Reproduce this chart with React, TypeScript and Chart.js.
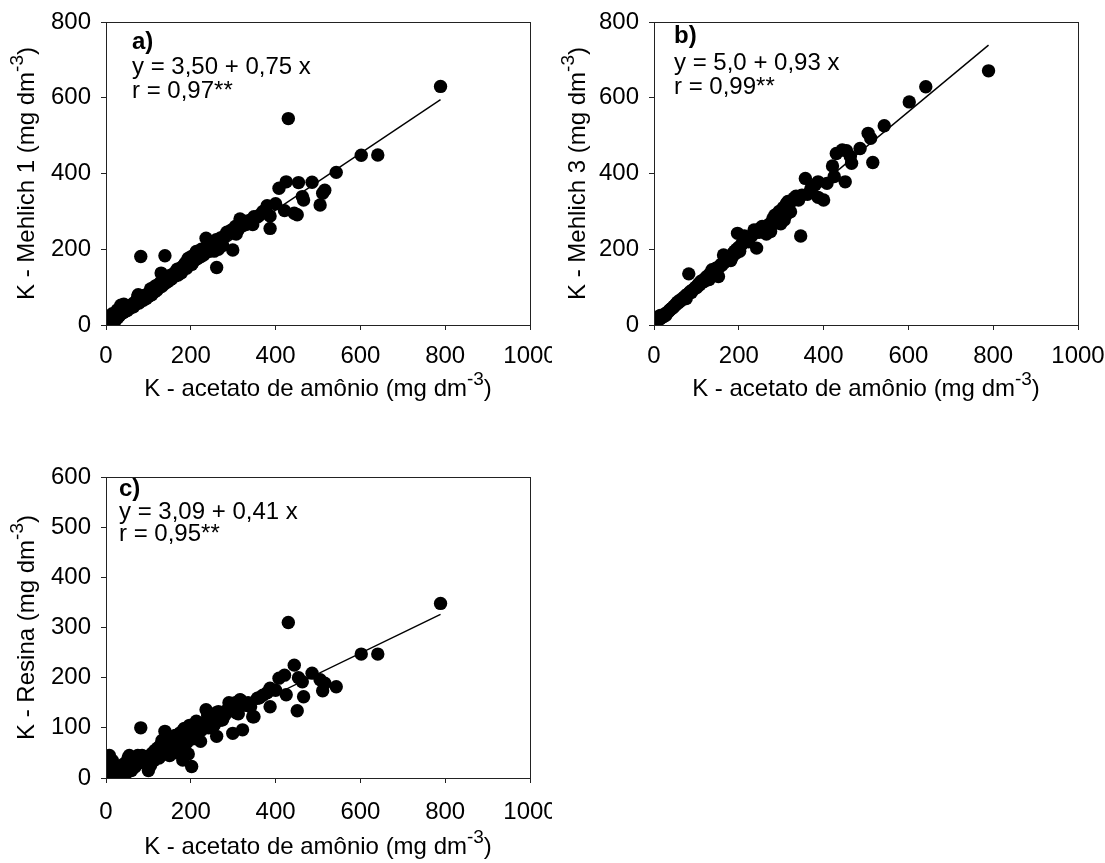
import React, { useEffect, useRef } from "react";
import { Chart, registerables } from "chart.js";

Chart.register(...registerables);

// K - acetato de amônio (shared x for all three panels)
const kAcetato = [
  789, 641, 602, 543, 516, 511, 505, 486, 466, 463, 454, 451, 444, 430, 425, 421, 408, 400, 387, 387,
  357, 349, 341, 322, 316, 311, 307, 299, 290, 275, 265, 261, 346, 248, 242, 236, 223, 213, 202, 197,
  194, 185, 181, 168, 164, 152, 139, 137, 130, 118, 82, 76,
  5, 8, 10, 12, 14, 15, 18, 20, 22, 25, 27, 28, 30, 32, 35, 36, 38, 40, 42, 44,
  46, 48, 50, 52, 55, 57, 60, 62, 65, 68, 70, 72, 75, 78, 80, 85, 88, 90, 95, 98,
  100, 103, 105, 108, 110, 113, 115, 120, 122, 125, 128, 132, 135, 140, 143, 146, 150, 155, 158, 160,
  165, 170, 172, 175, 178, 182, 188, 190, 195, 200, 205, 208, 215, 218, 225, 230, 240, 250, 255, 260,
  270, 280, 285, 295, 305, 312, 318, 330, 335, 362, 370, 380,
];

// K - Mehlich 1
const kMehlich1 = [
  630, 449, 448, 403, 356, 348, 317, 377, 330, 339, 376, 291, 295, 545, 378, 302, 361, 320, 288, 255,
  285, 286, 277, 262, 280, 250, 240, 198, 242, 210, 200, 152, 265, 205, 194, 229, 180, 194, 160, 176,
  176, 160, 150, 147, 130, 120, 183, 110, 137, 104, 181, 80,
  8, 12, 20, 25, 10, 30, 15, 22, 12, 28, 40, 20, 35, 25, 52, 30, 40, 32, 55, 35,
  48, 42, 38, 45, 50, 44, 52, 55, 48, 60, 55, 62, 75, 58, 68, 72, 65, 78, 70, 82,
  75, 85, 95, 80, 90, 100, 88, 92, 105, 98, 112, 102, 120, 110, 125, 115, 130, 122, 135, 128,
  140, 132, 145, 150, 138, 155, 165, 150, 170, 180, 165, 185, 175, 190, 200, 185, 205, 215, 195, 225,
  230, 235, 245, 250, 260, 255, 270, 265, 275, 290, 300, 315,
];

// K - Mehlich 3
const kMehlich3 = [
  671, 629, 589, 526, 429, 493, 506, 466, 427, 445, 460, 378, 462, 453, 392, 420, 374, 330, 378, 337,
  387, 343, 330, 299, 326, 290, 277, 267, 270, 247, 240, 245, 235, 245, 203, 251, 220, 235, 195, 242,
  190, 180, 170, 170, 185, 128, 140, 146, 120, 115, 135, 70,
  10, 14, 22, 18, 16, 25, 20, 24, 22, 28, 30, 26, 32, 34, 36, 38, 40, 42, 44, 45,
  48, 50, 52, 55, 60, 58, 62, 66, 65, 70, 72, 74, 78, 80, 82, 88, 86, 92, 96, 100,
  98, 104, 108, 106, 115, 112, 118, 120, 125, 128, 130, 135, 140, 138, 145, 150, 148, 155, 160, 158,
  165, 168, 175, 172, 180, 185, 190, 195, 200, 205, 210, 215, 220, 225, 230, 235, 245, 255, 260, 250,
  265, 280, 290, 300, 310, 320, 318, 335, 340, 345, 360, 370,
];

// K - Resina
const kResina = [
  348, 247, 247, 182, 189, 174, 196, 209, 162, 192, 200, 134, 225, 310, 166, 205, 199, 175, 179, 142,
  159, 122, 142, 96, 156, 136, 130, 89, 150, 116, 132, 83, 122, 106, 100, 136, 73, 113, 23, 105,
  48, 99, 36, 79, 85, 70, 93, 60, 55, 45, 100, 35,
  15, 45, 30, 8, 20, 35, 5, 12, 25, 8, 15, 3, 18, 10, 22, 6, 14, 20, 28, 12,
  18, 10, 25, 40, 45, 20, 15, 30, 35, 22, 28, 40, 45, 30, 38, 45, 35, 42, 38, 30,
  15, 45, 25, 40, 50, 35, 55, 48, 60, 40, 65, 75, 50, 80, 68, 55, 45, 62, 72, 50,
  85, 68, 75, 90, 60, 95, 82, 70, 88, 92, 78, 95, 85, 100, 95, 110, 125, 120, 105, 130,
  115, 125, 135, 140, 150, 128, 155, 145, 150, 160, 165, 170,
];

// regression lines (end points)
const fitMehlich1 = [{ x: 0, y: 3.5 }, { x: 789, y: 595 }];
const fitMehlich3 = [{ x: 0, y: 5 }, { x: 789, y: 739 }];
const fitResina = [{ x: 0, y: 3.09 }, { x: 789, y: 326 }];

const xTickStep = 200;
const xMax = 1000;
const yMaxMehlich = 800;
const yStepMehlich = 200;
const yMaxResina = 600;
const yStepResina = 100;

const FONT = '"Liberation Sans", Arial, Helvetica, sans-serif';
const FS = 24;

type PanelProps = {
  left: number;
  top: number;
  width: number;
  height: number;
  area: { l: number; r: number; t: number; b: number };
  yMax: number;
  yStep: number;
  ys: number[];
  fit: { x: number; y: number }[];
  tag: string;
  eq: string;
  rtxt: string;
  yMain: string;
  yTitleX: number;
  xTitleOff: number;
  xTickPad: number;
  textOff: { dx: number; tag: number; eq: number; r: number };
};

function drawTitle(
  ctx: CanvasRenderingContext2D,
  cx: number,
  cy: number,
  rotate: boolean,
  main: string,
  sup: string,
  tail: string
) {
  ctx.save();
  ctx.translate(cx, cy);
  if (rotate) ctx.rotate(-Math.PI / 2);
  const mainFont = `${FS}px ${FONT}`;
  const supFont = `19px ${FONT}`;
  ctx.font = mainFont;
  const w1 = ctx.measureText(main).width;
  const w3 = ctx.measureText(tail).width;
  ctx.font = supFont;
  const w2 = ctx.measureText(sup).width;
  let x = -(w1 + w2 + w3) / 2;
  ctx.textBaseline = "middle";
  ctx.textAlign = "left";
  ctx.fillStyle = "#000";
  ctx.font = mainFont;
  ctx.fillText(main, x, 0);
  x += w1;
  ctx.font = supFont;
  ctx.fillText(sup, x, -9);
  x += w2;
  ctx.font = mainFont;
  ctx.fillText(tail, x, 0);
  ctx.restore();
}

function Panel(p: PanelProps) {
  const ref = useRef<HTMLCanvasElement | null>(null);
  useEffect(() => {
    if (!ref.current) return;
    const pts = kAcetato.map((x, i) => ({ x, y: p.ys[i] }));
    const yAxisW = p.area.l;
    const xAxisH = p.height - p.area.b;
    const decor = {
      id: "decor" + p.tag,
      afterDraw(chart: any) {
        const ctx = chart.ctx as CanvasRenderingContext2D;
        const a = chart.chartArea;
        ctx.save();
        ctx.strokeStyle = "#222";
        ctx.lineWidth = 1;
        ctx.strokeRect(
          Math.round(a.left) + 0.5,
          Math.round(a.top) + 0.5,
          Math.round(a.right) - Math.round(a.left),
          Math.round(a.bottom) - Math.round(a.top)
        );
        ctx.fillStyle = "#000";
        ctx.textAlign = "left";
        ctx.textBaseline = "middle";
        ctx.font = `bold ${FS}px ${FONT}`;
        ctx.fillText(p.tag, a.left + p.textOff.dx, a.top + p.textOff.tag);
        ctx.font = `${FS}px ${FONT}`;
        ctx.fillText(p.eq, a.left + p.textOff.dx, a.top + p.textOff.eq);
        ctx.fillText(p.rtxt, a.left + p.textOff.dx, a.top + p.textOff.r);
        ctx.restore();
        drawTitle(
          ctx,
          (a.left + a.right) / 2,
          a.bottom + p.xTitleOff,
          false,
          "K - acetato de amônio (mg dm",
          "-3",
          ")"
        );
        drawTitle(ctx, p.yTitleX, (a.top + a.bottom) / 2, true, p.yMain, "-3", ")");
      },
    };
    const chart = new Chart(ref.current, {
      type: "scatter",
      data: {
        datasets: [
          {
            data: pts,
            backgroundColor: "#000",
            borderColor: "#000",
            pointRadius: 6.7,
            pointBorderWidth: 0,
            pointHoverRadius: 6.7,
          },
          {
            type: "line",
            data: p.fit,
            borderColor: "#000",
            borderWidth: 1.4,
            pointRadius: 0,
            fill: false,
          } as any,
        ],
      },
      options: {
        animation: false,
        responsive: false,
        maintainAspectRatio: false,
        layout: {
          padding: {
            left: 0,
            top: p.area.t,
            right: p.width - p.area.r,
            bottom: 0,
          },
        },
        plugins: {
          legend: { display: false },
          tooltip: { enabled: false },
        },
        scales: {
          x: {
            type: "linear",
            min: 0,
            max: xMax,
            border: { display: false },
            grid: {
              display: true,
              drawOnChartArea: false,
              drawTicks: true,
              tickLength: 5,
              color: "#222",
            },
            ticks: {
              stepSize: xTickStep,
              autoSkip: false,
              maxRotation: 0,
              padding: p.xTickPad,
              color: "#000",
              font: { family: FONT, size: FS },
              callback: (v: any) => String(v),
            },
            afterFit(s: any) {
              s.height = xAxisH;
              s.paddingLeft = 0;
              s.paddingRight = 0;
              s.paddingTop = 0;
              s.paddingBottom = 0;
            },
          },
          y: {
            type: "linear",
            min: 0,
            max: p.yMax,
            border: { display: false },
            grid: {
              display: true,
              drawOnChartArea: false,
              drawTicks: true,
              tickLength: 5,
              color: "#222",
            },
            ticks: {
              stepSize: p.yStep,
              autoSkip: false,
              padding: 10,
              color: "#000",
              font: { family: FONT, size: FS },
              callback: (v: any) => String(v),
            },
            afterFit(s: any) {
              s.width = yAxisW;
              s.paddingLeft = 0;
              s.paddingRight = 0;
              s.paddingTop = 0;
              s.paddingBottom = 0;
            },
          },
        },
      },
      plugins: [decor],
    });
    return () => chart.destroy();
  }, []);
  return (
    <canvas
      ref={ref}
      width={p.width}
      height={p.height}
      style={{
        position: "absolute",
        left: p.left,
        top: p.top,
        width: p.width,
        height: p.height,
      }}
    />
  );
}

export default function App() {
  return (
    <div
      style={{
        position: "fixed",
        left: 0,
        top: 0,
        width: 1105,
        height: 863,
        background: "#fff",
        overflow: "hidden",
      }}
    >
      <Panel
        left={0}
        top={0}
        width={552}
        height={420}
        area={{ l: 106, r: 530, t: 22, b: 325 }}
        yMax={yMaxMehlich}
        yStep={yStepMehlich}
        ys={kMehlich1}
        fit={fitMehlich1}
        tag="a)"
        eq="y = 3,50 + 0,75 x"
        rtxt="r = 0,97**"
        yMain="K - Mehlich 1 (mg dm"
        yTitleX={27}
        xTitleOff={64}
        xTickPad={12}
        textOff={{ dx: 26, tag: 20, eq: 45, r: 69 }}
      />
      <Panel
        left={552}
        top={0}
        width={553}
        height={420}
        area={{ l: 102, r: 526, t: 22, b: 325 }}
        yMax={yMaxMehlich}
        yStep={yStepMehlich}
        ys={kMehlich3}
        fit={fitMehlich3}
        tag="b)"
        eq="y = 5,0 + 0,93 x"
        rtxt="r = 0,99**"
        yMain="K - Mehlich 3 (mg dm"
        yTitleX={26}
        xTitleOff={64}
        xTickPad={12}
        textOff={{ dx: 20, tag: 14, eq: 41, r: 65 }}
      />
      <Panel
        left={0}
        top={440}
        width={552}
        height={423}
        area={{ l: 106, r: 530, t: 37, b: 338 }}
        yMax={yMaxResina}
        yStep={yStepResina}
        ys={kResina}
        fit={fitResina}
        tag="c)"
        eq="y = 3,09 + 0,41 x"
        rtxt="r = 0,95**"
        yMain="K - Resina (mg dm"
        yTitleX={27}
        xTitleOff={69}
        xTickPad={15}
        textOff={{ dx: 13, tag: 12, eq: 35, r: 57 }}
      />
    </div>
  );
}
